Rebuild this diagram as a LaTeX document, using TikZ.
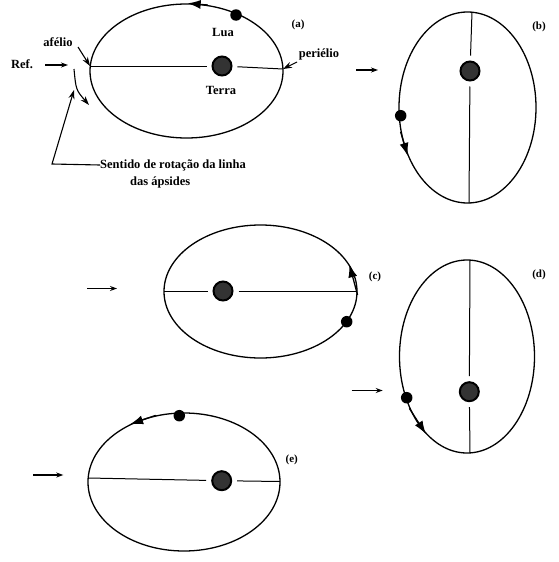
\documentclass[tikz,border=0pt]{standalone}
\usepackage{fontspec}
\setmainfont{Liberation Serif}
\usetikzlibrary{shapes.geometric,arrows.meta}
\begin{document}
\begin{tikzpicture}[x=1pt,y=-1pt,
  orbit/.style={draw, ellipse, line width=1.3pt, inner sep=0pt},
  axisline/.style={line width=1pt},
  earth/.style={circle, draw=black, line width=2pt, fill=black!80, minimum size=19pt, inner sep=0pt, outer sep=6pt},
  moon/.style={circle, fill=black, minimum size=11.5pt, inner sep=0pt},
  lbl/.style={font=\fontsize{12.5}{14}\selectfont\bfseries, inner sep=0pt},
  tag/.style={font=\fontsize{11}{13}\selectfont\bfseries, inner sep=0pt},
  refarrow/.style={-{Stealth[length=7pt,width=5pt]}, line width=1.1pt},
  dirarrow/.style={-{Latex[length=13pt,width=9pt]}, line width=1.3pt},
  pointer/.style={-{Stealth[length=9pt,width=6pt]}, line width=1.1pt}
]
\useasboundingbox (0,0) rectangle (559,562);

% ---------- (a)
\node[orbit, minimum width=193pt, minimum height=134pt] (ea) at (186.5,71) {};
\coordinate (aA) at (90,66);
\coordinate (aP) at (283,69);
\node[earth] (ta) at (222,66) {};
\draw[axisline] (aA) -- (ta);
\draw[axisline] (ta) -- (aP);
\node[moon] (la) at (236,15) {};
\draw[dirarrow] (ea.72) -- (ea.89);
\node[lbl] (lua) at (223,32) {Lua};
\node[lbl] (terra) at (221,90) {Terra};
\node[lbl] (afelio) at (58,42) {afélio};
\node[lbl] (perielio) at (319,54) {periélio};
\node[lbl] (refa) at (22,64) {Ref.};
\node[tag] (taga) at (298,25) {(a)};
\coordinate (afs) at (78,47);
\draw[pointer] (afs) -- (aA);
\coordinate (pes) at (297,62);
\draw[pointer] (pes) -- (aP);
\coordinate (rs) at (45,65);
\coordinate (re) at (68,65);
\draw[refarrow] (rs) -- (re);
\coordinate (cs) at (74,69);
\coordinate (ce) at (89,105);
\draw[pointer] (cs) .. controls (76,90) .. (ce);
\node[lbl, anchor=west] (sent1) at (100,165) {Sentido de rotação da linha};
\node[lbl, anchor=west] (sent2) at (130,182) {das ápsides};
\coordinate (pk) at (52,164);
\coordinate (pt) at (74,90);
\draw[pointer] (sent1.west) -- (pk) -- (pt);

% ---------- (b)
\node[orbit, minimum width=137pt, minimum height=191pt] (eb) at (467.5,107.5) {};
\coordinate (bA) at (472,12);
\coordinate (bP) at (469,203);
\node[earth] (tb) at (470,71) {};
\draw[axisline] (bA) -- (tb);
\draw[axisline] (tb) -- (bP);
\node[moon] (lb) at (400.7,115.7) {};
\draw[dirarrow] (eb.200) -- (eb.219);
\node[tag] (tagb) at (539,27) {(b)};
\coordinate (rbs) at (356,70);
\coordinate (rbe) at (378,70);
\draw[refarrow] (rbs) -- (rbe);

% ---------- (c)
\node[orbit, minimum width=193pt, minimum height=133pt] (ec) at (260.5,291.5) {};
\coordinate (cA) at (164,291);
\coordinate (cP) at (357,291);
\node[earth] (tc) at (223,291) {};
\draw[axisline] (cA) -- (tc);
\draw[axisline] (tc) -- (cP);
\node[moon] (lc) at (346.7,321.7) {};
\draw[dirarrow] (ec.-2) -- (ec.17);
\node[tag] (tagc) at (375,277) {(c)};
\coordinate (rcs) at (87,288.5);
\coordinate (rce) at (117,288.5);
\draw[refarrow] (rcs) -- (rce);

% ---------- (d)
\node[orbit, minimum width=135pt, minimum height=193pt] (ed) at (467,356.5) {};
\coordinate (dA) at (470,260);
\coordinate (dP) at (470,453);
\node[earth] (td) at (469.3,391.7) {};
\draw[axisline] (dA) -- (td);
\draw[axisline] (td) -- (dP);
\node[moon] (ld) at (406.7,397.7) {};
\draw[dirarrow] (ed.222) -- (ed.242);
\node[tag] (tagd) at (539,275) {(d)};
\coordinate (rds) at (351.7,390.5);
\coordinate (rde) at (382.7,390.5);
\draw[refarrow] (rds) -- (rde);

% ---------- (e)
\node[orbit, minimum width=192pt, minimum height=138pt] (ee) at (184,482) {};
\coordinate (eA) at (88.3,478);
\coordinate (eP) at (280,481.5);
\node[earth] (te) at (221.7,480.7) {};
\draw[axisline] (eA) -- (te);
\draw[axisline] (te) -- (eP);
\node[moon] (le) at (179.3,415.7) {};
\draw[dirarrow] (ee.113) -- (ee.133);
\node[tag] (tage) at (291.7,460) {(e)};
\coordinate (res) at (33.3,475);
\coordinate (ree) at (63.3,475);
\draw[refarrow] (res) -- (ree);
\end{tikzpicture}
\end{document}
